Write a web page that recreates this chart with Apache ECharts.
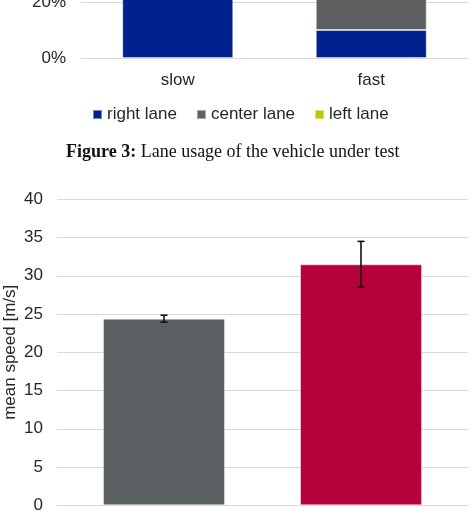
<!DOCTYPE html>
<html>
<head>
<meta charset="utf-8">
<script src="https://cdn.jsdelivr.net/npm/echarts@6/dist/echarts.min.js"></script>
<style>
  html, body { margin: 0; padding: 0; background: #fff; }
  #chart { width: 476px; height: 530px; }
</style>
</head>
<body>
<div id="chart"></div>
<script>
// top figure (lane usage, only lower part visible)
const laneCategories = ['slow', 'fast'];
const rightLane = [100, 10];
const centerLane = [0, 84];
const leftLane = [0, 6];

// bottom figure (mean speed)
const speedCategories = ['slow', 'fast'];
const meanSpeed = [24.4, 31.5];
const speedError = [0.45, 3.0];
const speedColors = ['#5a5f61', '#b5003a'];

const FONT = '"Liberation Sans", Arial, sans-serif';
const TEXT = '#262626';
const GRID = '#d9d9d9';

let myChart = echarts.init(document.getElementById('chart'), null, { renderer: 'canvas' });

const errData = meanSpeed.map((v, i) => [i, v - speedError[i], v + speedError[i]]);

const barBorder = { borderColor: 'rgba(255,255,255,0.45)', borderWidth: 1 };

myChart.setOption({
    animation: false,
    textStyle: { fontFamily: FONT, color: TEXT },
    legend: {
        left: 87,
        top: 101,
        icon: 'rect',
        itemWidth: 9,
        itemHeight: 9,
        itemGap: 19,
        textStyle: { fontSize: 17, color: TEXT, fontFamily: FONT },
        data: ['right lane', 'center lane', 'left lane']
    },
    graphic: [{
        type: 'text',
        left: 66,
        top: 143,
        style: {
            text: '{b|Figure 3:} Lane usage of the vehicle under test',
            fontFamily: '"Liberation Serif", "Times New Roman", serif',
            fontSize: 18,
            fill: '#111',
            rich: {
                b: { fontWeight: 'bold', fontFamily: '"Liberation Serif", "Times New Roman", serif', fontSize: 18 }
            }
        }
    }],
    grid: [
        // lane usage
        { left: 81, right: 8, top: -222, height: 280, outerBoundsMode: 'none', containLabel: false },
        // speed gridlines + labels
        { left: 57, right: 8, top: 199.3, bottom: 24.7, outerBoundsMode: 'none', containLabel: false },
        // speed bars
        { left: 65.5, right: 16.5, top: 199.3, bottom: 24.7, outerBoundsMode: 'none', containLabel: false }
    ],
    xAxis: [
        {
            gridIndex: 0, type: 'category', data: laneCategories,
            axisLine: { show: false }, axisTick: { show: false },
            axisLabel: { fontSize: 17, color: TEXT, margin: 14 }
        },
        {
            gridIndex: 1, type: 'category', data: speedCategories,
            show: false
        },
        {
            gridIndex: 2, type: 'category', data: speedCategories,
            axisLine: { show: false }, axisTick: { show: false },
            axisLabel: { show: false }
        }
    ],
    yAxis: [
        {
            gridIndex: 0, type: 'value', min: 0, max: 100, interval: 20,
            axisLabel: { formatter: '{value}%', fontSize: 17, color: TEXT, margin: 15 },
            splitLine: { lineStyle: { color: GRID, width: 1 } }
        },
        {
            gridIndex: 1, type: 'value', min: 0, max: 40, interval: 5,
            name: 'mean speed [m/s]', nameLocation: 'middle', nameGap: 38,
            nameMoveOverlap: false,
            nameTextStyle: { fontSize: 17, color: TEXT },
            axisLabel: { fontSize: 17, color: TEXT, margin: 14 },
            splitLine: { lineStyle: { color: GRID, width: 1 } }
        },
        {
            gridIndex: 2, type: 'value', min: 0, max: 40, interval: 5,
            axisLabel: { show: false }, splitLine: { show: false }
        }
    ],
    series: [
        {
            name: 'right lane', type: 'bar', stack: 'lane', xAxisIndex: 0, yAxisIndex: 0,
            barWidth: 111, data: rightLane,
            itemStyle: Object.assign({ color: '#002190' }, barBorder)
        },
        {
            name: 'center lane', type: 'bar', stack: 'lane', xAxisIndex: 0, yAxisIndex: 0,
            barWidth: 111, data: centerLane,
            itemStyle: Object.assign({ color: '#5f6061' }, barBorder)
        },
        {
            name: 'left lane', type: 'bar', stack: 'lane', xAxisIndex: 0, yAxisIndex: 0,
            barWidth: 111, data: leftLane,
            itemStyle: Object.assign({ color: '#bfc800' }, barBorder)
        },
        {
            name: 'mean speed', type: 'bar', xAxisIndex: 2, yAxisIndex: 2,
            barWidth: 122,
            data: meanSpeed.map((v, i) => ({ value: v, itemStyle: { color: speedColors[i] } })),
            itemStyle: barBorder
        },
        {
            name: 'error', type: 'custom', xAxisIndex: 2, yAxisIndex: 2,
            data: errData,
            renderItem: function (params, api) {
                let lo = api.coord([api.value(0), api.value(1)]);
                let hi = api.coord([api.value(0), api.value(2)]);
                let w = 3.5;
                let style = { stroke: '#111', lineWidth: 1.6 };
                return {
                    type: 'group',
                    children: [
                        { type: 'line', shape: { x1: hi[0], y1: hi[1], x2: lo[0], y2: lo[1] }, style: style },
                        { type: 'line', shape: { x1: hi[0] - w, y1: hi[1], x2: hi[0] + w, y2: hi[1] }, style: style },
                        { type: 'line', shape: { x1: lo[0] - w, y1: lo[1], x2: lo[0] + w, y2: lo[1] }, style: style }
                    ]
                };
            },
            z: 5
        }
    ]
});
</script>
</body>
</html>
